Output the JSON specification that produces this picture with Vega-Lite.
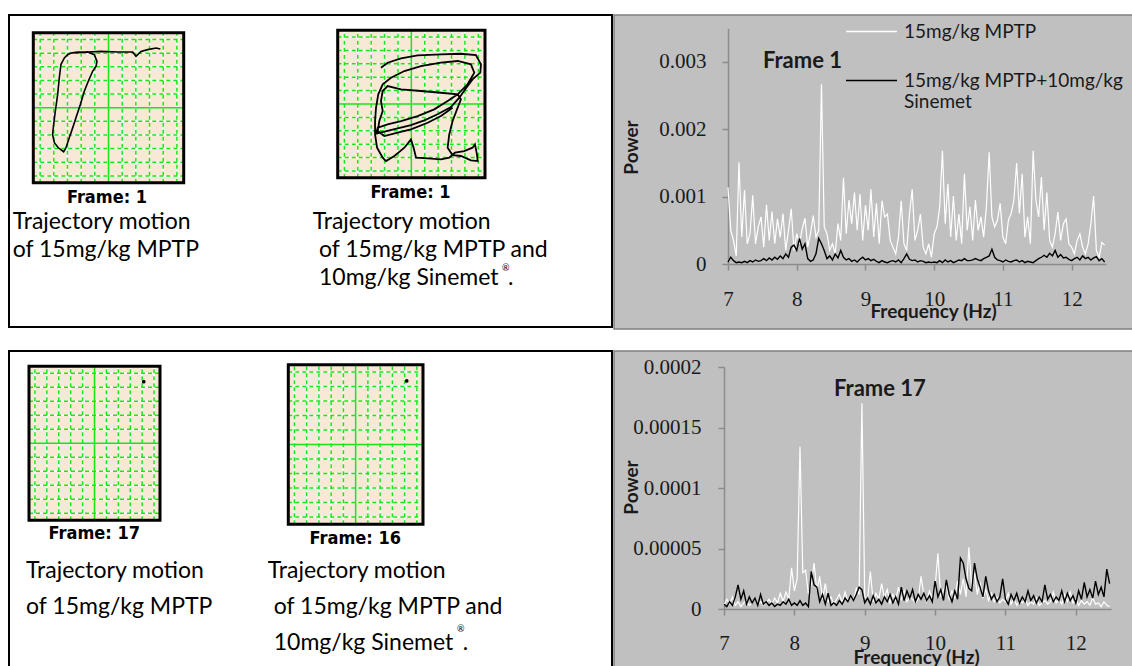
{
"$schema":"https://vega.github.io/schema/vega-lite/v6.json",
"background":"white",
"padding":{"left":8,"top":4,"right":0,"bottom":0},
"spacing":20,
"config":{"view":{"stroke":null},"font":"Lato"},
"datasets":{
"gl":[{"v":0.5},{"v":1.5},{"v":2.5},{"v":3.5},{"v":4.5},{"v":6.5},{"v":7.5},{"v":8.5},{"v":9.5},{"v":10.5}],
"t1":[{"i":1,"x":9.29,"y":9.8},{"i":2,"x":8.98,"y":9.88},{"i":3,"x":8.37,"y":9.76},{"i":4,"x":7.88,"y":9.63},{"i":5,"x":7.51,"y":9.27},{"i":6,"x":7.27,"y":9.59},{"i":7,"x":6.17,"y":9.59},{"i":8,"x":4.95,"y":9.63},{"i":9,"x":3.98,"y":9.59},{"i":10,"x":3.24,"y":9.59},{"i":11,"x":2.76,"y":9.51},{"i":12,"x":2.51,"y":9.39},{"i":13,"x":2.27,"y":9.15},{"i":14,"x":2.02,"y":8.66},{"i":15,"x":1.9,"y":7.68},{"i":16,"x":1.78,"y":6.46},{"i":17,"x":1.61,"y":5.24},{"i":18,"x":1.49,"y":4.27},{"i":19,"x":1.41,"y":3.54},{"i":20,"x":1.54,"y":2.93},{"i":21,"x":1.83,"y":2.56},{"i":22,"x":2.22,"y":2.27},{"i":23,"x":2.39,"y":2.56},{"i":24,"x":2.63,"y":3.29},{"i":25,"x":2.88,"y":4.02},{"i":26,"x":3.12,"y":4.76},{"i":27,"x":3.44,"y":5.73},{"i":28,"x":3.73,"y":6.71},{"i":29,"x":4.02,"y":7.44},{"i":30,"x":4.34,"y":8.17},{"i":31,"x":4.59,"y":8.54},{"i":32,"x":4.66,"y":8.9},{"i":33,"x":4.46,"y":9.39},{"i":34,"x":3.98,"y":9.59},{"i":35,"x":2.88,"y":9.51}],
"t2":[{"i":1,"x":3.23,"y":8.21},{"i":2,"x":3.73,"y":8.58},{"i":3,"x":4.73,"y":8.91},{"i":4,"x":5.97,"y":9.13},{"i":5,"x":7.71,"y":9.2},{"i":6,"x":9.2,"y":9.25},{"i":7,"x":10.32,"y":9.15},{"i":8,"x":10.7,"y":8.46},{"i":9,"x":10.65,"y":7.84},{"i":10,"x":10.07,"y":7.34},{"i":11,"x":9.58,"y":6.67},{"i":12,"x":9.08,"y":5.97},{"i":13,"x":8.46,"y":5.27},{"i":14,"x":7.46,"y":4.73},{"i":15,"x":6.47,"y":4.28},{"i":16,"x":5.47,"y":3.93},{"i":17,"x":4.48,"y":3.68},{"i":18,"x":3.48,"y":3.43},{"i":19,"x":2.86,"y":3.28},{"i":20,"x":2.99,"y":3.73},{"i":21,"x":3.73,"y":3.98},{"i":22,"x":4.73,"y":4.23},{"i":23,"x":5.97,"y":4.6},{"i":24,"x":7.21,"y":5.1},{"i":25,"x":8.21,"y":5.72},{"i":26,"x":8.96,"y":6.22},{"i":27,"x":9.7,"y":6.97},{"i":28,"x":10.2,"y":7.84},{"i":29,"x":9.95,"y":8.46},{"i":30,"x":8.96,"y":8.71},{"i":31,"x":7.71,"y":8.58},{"i":32,"x":6.22,"y":8.33},{"i":33,"x":4.98,"y":7.96},{"i":34,"x":3.98,"y":7.46},{"i":35,"x":3.36,"y":6.97},{"i":36,"x":3.03,"y":6.22},{"i":37,"x":2.86,"y":5.22},{"i":38,"x":2.79,"y":4.23},{"i":39,"x":2.79,"y":3.23},{"i":40,"x":2.94,"y":2.24},{"i":41,"x":3.36,"y":1.49},{"i":42,"x":3.61,"y":1.24},{"i":43,"x":4.23,"y":1.62},{"i":44,"x":4.98,"y":2.24},{"i":45,"x":5.47,"y":2.86},{"i":46,"x":5.67,"y":2.24},{"i":47,"x":5.85,"y":1.49},{"i":48,"x":6.72,"y":1.44},{"i":49,"x":7.71,"y":1.37},{"i":50,"x":8.33,"y":1.49},{"i":51,"x":8.76,"y":1.87},{"i":52,"x":9.45,"y":1.99},{"i":53,"x":10.07,"y":2.24},{"i":54,"x":10.25,"y":2.49},{"i":55,"x":10.4,"y":1.74},{"i":56,"x":10.45,"y":1.24},{"i":57,"x":9.95,"y":1.29},{"i":58,"x":9.2,"y":1.62},{"i":59,"x":8.58,"y":1.69},{"i":60,"x":8.21,"y":2.24},{"i":61,"x":8.33,"y":3.23},{"i":62,"x":8.58,"y":4.23},{"i":63,"x":8.91,"y":5.1},{"i":64,"x":9.2,"y":5.85},{"i":65,"x":8.96,"y":6.22},{"i":66,"x":7.71,"y":6.34},{"i":67,"x":6.22,"y":6.47},{"i":68,"x":4.73,"y":6.59},{"i":69,"x":3.73,"y":6.84},{"i":70,"x":3.36,"y":6.47},{"i":71,"x":3.23,"y":5.72},{"i":72,"x":3.36,"y":4.98},{"i":73,"x":3.11,"y":4.23},{"i":74,"x":2.99,"y":3.48},{"i":75,"x":3.48,"y":3.11},{"i":76,"x":4.48,"y":3.36},{"i":77,"x":5.47,"y":3.61},{"i":78,"x":6.72,"y":4.1},{"i":79,"x":7.71,"y":4.6},{"i":80,"x":8.58,"y":5.22}],
"c1":[{"f":7,"w":1.14e-3,"b":0.03e-3},{"f":7.04,"w":0.5e-3,"b":0.1e-3},{"f":7.08,"w":0.35e-3,"b":0.05e-3},{"f":7.12,"w":0.12e-3,"b":0.02e-3},{"f":7.16,"w":1.51e-3,"b":0.03e-3},{"f":7.2,"w":0.4e-3,"b":0.02e-3},{"f":7.24,"w":1.1e-3,"b":0.04e-3},{"f":7.28,"w":0.3e-3,"b":0.02e-3},{"f":7.32,"w":0.45e-3,"b":0.05e-3},{"f":7.36,"w":1.02e-3,"b":0.03e-3},
{"f":7.4,"w":0.3e-3,"b":0.06e-3},{"f":7.44,"w":0.55e-3,"b":0.04e-3},{"f":7.48,"w":0.7e-3,"b":0.05e-3},{"f":7.52,"w":0.25e-3,"b":0.08e-3},{"f":7.56,"w":0.88e-3,"b":0.05e-3},{"f":7.6,"w":0.35e-3,"b":0.09e-3},{"f":7.64,"w":0.78e-3,"b":0.06e-3},{"f":7.68,"w":0.3e-3,"b":0.1e-3},{"f":7.72,"w":0.67e-3,"b":0.07e-3},{"f":7.76,"w":0.4e-3,"b":0.12e-3},
{"f":7.8,"w":0.75e-3,"b":0.08e-3},{"f":7.84,"w":0.2e-3,"b":0.15e-3},{"f":7.88,"w":0.5e-3,"b":0.1e-3},{"f":7.92,"w":0.82e-3,"b":0.25e-3},{"f":7.96,"w":0.2e-3,"b":0.28e-3},{"f":8,"w":0.45e-3,"b":0.2e-3},{"f":8.04,"w":0.3e-3,"b":0.38e-3},{"f":8.08,"w":0.52e-3,"b":0.22e-3},{"f":8.12,"w":0.68e-3,"b":0.3e-3},{"f":8.16,"w":0.25e-3,"b":0.08e-3},
{"f":8.2,"w":0.45e-3,"b":0.04e-3},{"f":8.24,"w":0.72e-3,"b":0.06e-3},{"f":8.28,"w":0.4e-3,"b":0.15e-3},{"f":8.32,"w":0.5e-3,"b":0.38e-3},{"f":8.36,"w":2.67e-3,"b":0.3e-3},{"f":8.4,"w":0.55e-3,"b":0.2e-3},{"f":8.44,"w":0.45e-3,"b":0.08e-3},{"f":8.48,"w":0.2e-3,"b":0.12e-3},{"f":8.52,"w":0.3e-3,"b":0.06e-3},{"f":8.56,"w":0.15e-3,"b":0.15e-3},
{"f":8.6,"w":0.6e-3,"b":0.09e-3},{"f":8.64,"w":0.35e-3,"b":0.2e-3},{"f":8.68,"w":1.28e-3,"b":0.1e-3},{"f":8.72,"w":0.45e-3,"b":0.06e-3},{"f":8.76,"w":0.95e-3,"b":0.08e-3},{"f":8.8,"w":0.6e-3,"b":0.04e-3},{"f":8.84,"w":1.06e-3,"b":0.06e-3},{"f":8.88,"w":0.5e-3,"b":0.03e-3},{"f":8.92,"w":1.04e-3,"b":0.07e-3},{"f":8.96,"w":0.35e-3,"b":0.1e-3},
{"f":9,"w":0.87e-3,"b":0.06e-3},{"f":9.04,"w":0.5e-3,"b":0.08e-3},{"f":9.08,"w":1.11e-3,"b":0.05e-3},{"f":9.12,"w":0.4e-3,"b":0.07e-3},{"f":9.16,"w":0.9e-3,"b":0.04e-3},{"f":9.2,"w":0.3e-3,"b":0.02e-3},{"f":9.24,"w":0.94e-3,"b":0.05e-3},{"f":9.28,"w":0.7e-3,"b":0.03e-3},{"f":9.32,"w":0.74e-3,"b":0.02e-3},{"f":9.36,"w":0.35e-3,"b":0.04e-3},
{"f":9.4,"w":0.25e-3,"b":0.05e-3},{"f":9.44,"w":0.15e-3,"b":0.03e-3},{"f":9.48,"w":0.4e-3,"b":0.06e-3},{"f":9.52,"w":0.94e-3,"b":0.02e-3},{"f":9.56,"w":0.3e-3,"b":0.08e-3},{"f":9.6,"w":0.2e-3,"b":0.15e-3},{"f":9.64,"w":0.74e-3,"b":0.07e-3},{"f":9.68,"w":1.11e-3,"b":0.05e-3},{"f":9.72,"w":0.35e-3,"b":0.06e-3},{"f":9.76,"w":0.5e-3,"b":0.03e-3},
{"f":9.8,"w":0.74e-3,"b":0.05e-3},{"f":9.84,"w":0.25e-3,"b":0.04e-3},{"f":9.88,"w":0.15e-3,"b":0.02e-3},{"f":9.92,"w":0.3e-3,"b":0.03e-3},{"f":9.96,"w":0.1e-3,"b":0.02e-3},{"f":10,"w":0.45e-3,"b":0.03e-3},{"f":10.04,"w":0.55e-3,"b":0.02e-3},{"f":10.08,"w":0.84e-3,"b":0.05e-3},{"f":10.12,"w":1.68e-3,"b":0.02e-3},{"f":10.16,"w":0.6e-3,"b":0.06e-3},
{"f":10.2,"w":1.19e-3,"b":0.03e-3},{"f":10.24,"w":0.4e-3,"b":0.05e-3},{"f":10.28,"w":1.01e-3,"b":0.02e-3},{"f":10.32,"w":0.35e-3,"b":0.04e-3},{"f":10.36,"w":0.74e-3,"b":0.06e-3},{"f":10.4,"w":0.3e-3,"b":0.05e-3},{"f":10.44,"w":1.34e-3,"b":0.08e-3},{"f":10.48,"w":0.5e-3,"b":0.05e-3},{"f":10.52,"w":0.85e-3,"b":0.05e-3},{"f":10.56,"w":0.35e-3,"b":0.06e-3},
{"f":10.6,"w":0.95e-3,"b":0.08e-3},{"f":10.64,"w":0.5e-3,"b":0.06e-3},{"f":10.68,"w":0.7e-3,"b":0.05e-3},{"f":10.72,"w":0.4e-3,"b":0.08e-3},{"f":10.76,"w":0.85e-3,"b":0.1e-3},{"f":10.8,"w":1.66e-3,"b":0.12e-3},{"f":10.84,"w":0.7e-3,"b":0.22e-3},{"f":10.88,"w":0.55e-3,"b":0.1e-3},{"f":10.92,"w":0.65e-3,"b":0.06e-3},{"f":10.96,"w":0.9e-3,"b":0.05e-3},
{"f":11,"w":0.4e-3,"b":0.03e-3},{"f":11.04,"w":0.3e-3,"b":0.06e-3},{"f":11.08,"w":0.65e-3,"b":0.04e-3},{"f":11.12,"w":0.75e-3,"b":0.03e-3},{"f":11.16,"w":0.95e-3,"b":0.05e-3},{"f":11.2,"w":1.5e-3,"b":0.06e-3},{"f":11.24,"w":0.75e-3,"b":0.03e-3},{"f":11.28,"w":1.34e-3,"b":0.05e-3},{"f":11.32,"w":0.4e-3,"b":0.02e-3},{"f":11.36,"w":0.7e-3,"b":0.04e-3},
{"f":11.4,"w":0.3e-3,"b":0.03e-3},{"f":11.44,"w":1.68e-3,"b":0.02e-3},{"f":11.48,"w":0.95e-3,"b":0.05e-3},{"f":11.52,"w":0.7e-3,"b":0.08e-3},{"f":11.56,"w":1.29e-3,"b":0.1e-3},{"f":11.6,"w":0.5e-3,"b":0.13e-3},{"f":11.64,"w":1.06e-3,"b":0.1e-3},{"f":11.68,"w":0.35e-3,"b":0.16e-3},{"f":11.72,"w":0.25e-3,"b":0.12e-3},{"f":11.76,"w":0.45e-3,"b":0.2e-3},
{"f":11.8,"w":0.77e-3,"b":0.1e-3},{"f":11.84,"w":0.35e-3,"b":0.14e-3},{"f":11.88,"w":0.6e-3,"b":0.09e-3},{"f":11.92,"w":0.67e-3,"b":0.1e-3},{"f":11.96,"w":0.3e-3,"b":0.07e-3},{"f":12,"w":0.25e-3,"b":0.05e-3},{"f":12.04,"w":0.15e-3,"b":0.08e-3},{"f":12.08,"w":0.35e-3,"b":0.1e-3},{"f":12.12,"w":0.45e-3,"b":0.06e-3},{"f":12.16,"w":0.25e-3,"b":0.12e-3},
{"f":12.2,"w":0.15e-3,"b":0.08e-3},{"f":12.24,"w":0.3e-3,"b":0.1e-3},{"f":12.28,"w":0.6e-3,"b":0.06e-3},{"f":12.32,"w":1.01e-3,"b":0.09e-3},{"f":12.36,"w":0.2e-3,"b":0.11e-3},{"f":12.4,"w":0.1e-3,"b":0.05e-3},{"f":12.44,"w":0.32e-3,"b":0.08e-3},{"f":12.48,"w":0.28e-3,"b":0.03e-3}],
"c2":[{"f":7,"w":0.3e-5,"b":0.4e-5},{"f":7.04,"w":0.8e-5,"b":0.2e-5},{"f":7.08,"w":0.4e-5,"b":0.6e-5},{"f":7.12,"w":1.0e-5,"b":0.3e-5},{"f":7.16,"w":0.3e-5,"b":1.0e-5},{"f":7.2,"w":0.6e-5,"b":2.0e-5},{"f":7.24,"w":0.2e-5,"b":0.8e-5},{"f":7.28,"w":0.5e-5,"b":1.5e-5},{"f":7.32,"w":0.7e-5,"b":0.4e-5},{"f":7.36,"w":0.3e-5,"b":1.0e-5},
{"f":7.4,"w":0.5e-5,"b":0.5e-5},{"f":7.44,"w":0.9e-5,"b":0.9e-5},{"f":7.48,"w":0.4e-5,"b":0.3e-5},{"f":7.52,"w":0.6e-5,"b":1.2e-5},{"f":7.56,"w":0.3e-5,"b":0.4e-5},{"f":7.6,"w":0.5e-5,"b":0.6e-5},{"f":7.64,"w":0.8e-5,"b":0.3e-5},{"f":7.68,"w":0.4e-5,"b":0.5e-5},{"f":7.72,"w":0.9e-5,"b":0.2e-5},{"f":7.76,"w":0.5e-5,"b":0.4e-5},
{"f":7.8,"w":1.3e-5,"b":0.3e-5},{"f":7.84,"w":0.6e-5,"b":0.6e-5},{"f":7.88,"w":1.4e-5,"b":0.4e-5},{"f":7.92,"w":0.8e-5,"b":0.8e-5},{"f":7.96,"w":3.4e-5,"b":0.3e-5},{"f":8,"w":1.5e-5,"b":0.5e-5},{"f":8.04,"w":2.5e-5,"b":0.3e-5},{"f":8.08,"w":13.4e-5,"b":0.7e-5},{"f":8.12,"w":3.0e-5,"b":0.3e-5},{"f":8.16,"w":3.2e-5,"b":0.5e-5},
{"f":8.2,"w":1.2e-5,"b":0.2e-5},{"f":8.24,"w":2.0e-5,"b":3.1e-5},{"f":8.28,"w":3.8e-5,"b":2.0e-5},{"f":8.32,"w":1.5e-5,"b":1.8e-5},{"f":8.36,"w":2.7e-5,"b":0.6e-5},{"f":8.4,"w":0.8e-5,"b":1.2e-5},{"f":8.44,"w":2.1e-5,"b":0.4e-5},{"f":8.48,"w":0.6e-5,"b":1.3e-5},{"f":8.52,"w":1.0e-5,"b":0.3e-5},{"f":8.56,"w":0.4e-5,"b":0.5e-5},
{"f":8.6,"w":0.8e-5,"b":0.3e-5},{"f":8.64,"w":1.2e-5,"b":0.7e-5},{"f":8.68,"w":0.5e-5,"b":0.4e-5},{"f":8.72,"w":1.4e-5,"b":0.9e-5},{"f":8.76,"w":0.6e-5,"b":0.6e-5},{"f":8.8,"w":1.0e-5,"b":1.1e-5},{"f":8.84,"w":0.7e-5,"b":0.7e-5},{"f":8.88,"w":1.7e-5,"b":1.2e-5},{"f":8.92,"w":1.2e-5,"b":1.8e-5},{"f":8.96,"w":17.0e-5,"b":1.6e-5},
{"f":9,"w":1.0e-5,"b":0.5e-5},{"f":9.04,"w":0.8e-5,"b":0.9e-5},{"f":9.08,"w":3.1e-5,"b":0.4e-5},{"f":9.12,"w":0.6e-5,"b":1.1e-5},{"f":9.16,"w":1.3e-5,"b":0.5e-5},{"f":9.2,"w":0.8e-5,"b":0.8e-5},{"f":9.24,"w":2.1e-5,"b":0.4e-5},{"f":9.28,"w":0.9e-5,"b":1.0e-5},{"f":9.32,"w":1.6e-5,"b":0.6e-5},{"f":9.36,"w":0.5e-5,"b":1.2e-5},
{"f":9.4,"w":1.2e-5,"b":0.5e-5},{"f":9.44,"w":0.7e-5,"b":1.0e-5},{"f":9.48,"w":1.8e-5,"b":0.4e-5},{"f":9.52,"w":0.8e-5,"b":1.8e-5},{"f":9.56,"w":1.5e-5,"b":0.7e-5},{"f":9.6,"w":0.6e-5,"b":1.5e-5},{"f":9.64,"w":1.0e-5,"b":0.9e-5},{"f":9.68,"w":0.8e-5,"b":1.6e-5},{"f":9.72,"w":0.5e-5,"b":0.6e-5},{"f":9.76,"w":0.8e-5,"b":1.2e-5},
{"f":9.8,"w":2.7e-5,"b":0.8e-5},{"f":9.84,"w":1.2e-5,"b":1.3e-5},{"f":9.88,"w":0.6e-5,"b":0.7e-5},{"f":9.92,"w":1.5e-5,"b":1.1e-5},{"f":9.96,"w":0.9e-5,"b":0.6e-5},{"f":10,"w":1.8e-5,"b":2.3e-5},{"f":10.04,"w":4.6e-5,"b":1.0e-5},{"f":10.08,"w":1.0e-5,"b":1.6e-5},{"f":10.12,"w":1.6e-5,"b":0.7e-5},{"f":10.16,"w":2.0e-5,"b":2.4e-5},
{"f":10.2,"w":0.8e-5,"b":1.2e-5},{"f":10.24,"w":1.5e-5,"b":0.6e-5},{"f":10.28,"w":0.9e-5,"b":1.5e-5},{"f":10.32,"w":2.3e-5,"b":0.8e-5},{"f":10.36,"w":1.2e-5,"b":4.2e-5},{"f":10.4,"w":2.5e-5,"b":3.8e-5},{"f":10.44,"w":1.0e-5,"b":2.5e-5},{"f":10.48,"w":5.1e-5,"b":1.7e-5},{"f":10.52,"w":1.8e-5,"b":1.5e-5},{"f":10.56,"w":3.0e-5,"b":3.8e-5},
{"f":10.6,"w":1.2e-5,"b":2.5e-5},{"f":10.64,"w":2.2e-5,"b":1.8e-5},{"f":10.68,"w":0.9e-5,"b":1.0e-5},{"f":10.72,"w":1.6e-5,"b":2.7e-5},{"f":10.76,"w":0.7e-5,"b":1.5e-5},{"f":10.8,"w":1.3e-5,"b":0.8e-5},{"f":10.84,"w":0.6e-5,"b":1.2e-5},{"f":10.88,"w":1.0e-5,"b":0.6e-5},{"f":10.92,"w":0.5e-5,"b":1.0e-5},{"f":10.96,"w":0.8e-5,"b":2.5e-5},
{"f":11,"w":0.6e-5,"b":0.8e-5},{"f":11.04,"w":1.3e-5,"b":0.4e-5},{"f":11.08,"w":0.4e-5,"b":1.2e-5},{"f":11.12,"w":0.9e-5,"b":0.7e-5},{"f":11.16,"w":0.3e-5,"b":1.3e-5},{"f":11.2,"w":0.7e-5,"b":0.5e-5},{"f":11.24,"w":0.5e-5,"b":1.0e-5},{"f":11.28,"w":0.8e-5,"b":0.6e-5},{"f":11.32,"w":0.3e-5,"b":1.5e-5},{"f":11.36,"w":0.6e-5,"b":0.7e-5},
{"f":11.4,"w":0.4e-5,"b":1.1e-5},{"f":11.44,"w":0.9e-5,"b":0.5e-5},{"f":11.48,"w":0.3e-5,"b":1.0e-5},{"f":11.52,"w":0.5e-5,"b":0.6e-5},{"f":11.56,"w":0.7e-5,"b":2.0e-5},{"f":11.6,"w":0.4e-5,"b":0.8e-5},{"f":11.64,"w":0.6e-5,"b":1.2e-5},{"f":11.68,"w":1.4e-5,"b":0.6e-5},{"f":11.72,"w":0.5e-5,"b":1.0e-5},{"f":11.76,"w":0.8e-5,"b":0.7e-5},
{"f":11.8,"w":0.4e-5,"b":1.5e-5},{"f":11.84,"w":1.2e-5,"b":0.6e-5},{"f":11.88,"w":0.6e-5,"b":1.3e-5},{"f":11.92,"w":1.4e-5,"b":0.7e-5},{"f":11.96,"w":0.5e-5,"b":1.1e-5},{"f":12,"w":0.8e-5,"b":0.5e-5},{"f":12.04,"w":0.3e-5,"b":1.5e-5},{"f":12.08,"w":0.7e-5,"b":0.8e-5},{"f":12.12,"w":0.4e-5,"b":2.2e-5},{"f":12.16,"w":0.6e-5,"b":1.0e-5},
{"f":12.2,"w":0.3e-5,"b":1.6e-5},{"f":12.24,"w":0.9e-5,"b":0.9e-5},{"f":12.28,"w":0.4e-5,"b":2.3e-5},{"f":12.32,"w":0.5e-5,"b":1.2e-5},{"f":12.36,"w":0.2e-5,"b":1.8e-5},{"f":12.4,"w":0.6e-5,"b":1.0e-5},{"f":12.44,"w":0.3e-5,"b":3.3e-5},{"f":12.48,"w":0.2e-5,"b":2.1e-5}]
},
"resolve":{"scale":{"color":"independent"},"legend":{"color":"independent"}},
"vconcat":[
{"hconcat":[
 {"width":603,"height":312,"view":{"fill":"white","stroke":"black","strokeWidth":2},
  "resolve":{"scale":{"x":"independent","y":"independent"}},
  "layer":[
   {"data":{"values":[{}]},"layer":[
    {"mark":{"type":"rect","fill":"#f8e8d6"},"encoding":{"x":{"datum":0,"type":"quantitative","scale":{"domain":[0,11],"range":[24.3,174.7],"nice":false,"zero":false},"axis":null},"x2":{"datum":11},"y":{"datum":0,"type":"quantitative","scale":{"domain":[0,11],"range":[167.7,17.7],"nice":false,"zero":false},"axis":null},"y2":{"datum":11}}},
    {"data":{"name":"gl"},"mark":{"type":"rule","color":"#ffffff","strokeWidth":1.5},"encoding":{"x":{"field":"v","type":"quantitative","axis":null},"y":{"datum":0,"type":"quantitative","axis":null},"y2":{"datum":11}}},
    {"data":{"name":"gl"},"mark":{"type":"rule","color":"#ffffff","strokeWidth":1.5},"encoding":{"y":{"field":"v","type":"quantitative","axis":null},"x":{"datum":0,"type":"quantitative","axis":null},"x2":{"datum":11}}},
    {"data":{"name":"gl"},"mark":{"type":"rule","color":"#19e619","strokeWidth":1.5,"strokeDash":[4,3]},"encoding":{"x":{"field":"v","type":"quantitative","axis":null},"y":{"datum":0,"type":"quantitative","axis":null},"y2":{"datum":11}}},
    {"data":{"name":"gl"},"mark":{"type":"rule","color":"#19e619","strokeWidth":1.5,"strokeDash":[4,3]},"encoding":{"y":{"field":"v","type":"quantitative","axis":null},"x":{"datum":0,"type":"quantitative","axis":null},"x2":{"datum":11}}},
    {"mark":{"type":"rule","color":"#19e619","strokeWidth":1.5},"encoding":{"x":{"datum":5.5,"type":"quantitative","axis":null},"y":{"datum":0,"type":"quantitative","axis":null},"y2":{"datum":11}}},
    {"mark":{"type":"rule","color":"#19e619","strokeWidth":1.5},"encoding":{"y":{"datum":5.5,"type":"quantitative","axis":null},"x":{"datum":0,"type":"quantitative","axis":null},"x2":{"datum":11}}},
    {"mark":{"type":"rect","filled":false,"color":"#000000","strokeWidth":3},"encoding":{"x":{"datum":0,"type":"quantitative","axis":null},"x2":{"datum":11},"y":{"datum":0,"type":"quantitative","axis":null},"y2":{"datum":11}}},
    {"data":{"name":"t1"},"mark":{"type":"line","color":"#000000","strokeWidth":1.6},"encoding":{"x":{"field":"x","type":"quantitative","axis":null},"y":{"field":"y","type":"quantitative","axis":null},"order":{"field":"i","type":"quantitative"}}},
    {"mark":{"type":"text","text":"Frame: 1","font":"DejaVu Sans Condensed","fontWeight":"bold","fontSize":18,"color":"#000000","align":"center","baseline":"middle"},"encoding":{"x":{"datum":5.39,"type":"quantitative","axis":null},"y":{"datum":-1.12,"type":"quantitative","axis":null}}},
    {"mark":{"type":"text","text":"Trajectory motion","font":"Lato","fontSize":23,"color":"#000000","align":"left","baseline":"middle"},"encoding":{"x":{"datum":-1.51,"type":"quantitative","axis":null},"y":{"datum":-2.88,"type":"quantitative","axis":null}}},
    {"mark":{"type":"text","text":"of 15mg/kg MPTP","font":"Lato","fontSize":23,"color":"#000000","align":"left","baseline":"middle"},"encoding":{"x":{"datum":-1.51,"type":"quantitative","axis":null},"y":{"datum":-4.93,"type":"quantitative","axis":null}}}
   ]},
   {"data":{"values":[{}]},"layer":[
    {"mark":{"type":"rect","fill":"#f8e8d6"},"encoding":{"x":{"datum":0,"type":"quantitative","scale":{"domain":[0,11],"range":[328.7,476],"nice":false,"zero":false},"axis":null},"x2":{"datum":11},"y":{"datum":0,"type":"quantitative","scale":{"domain":[0,11],"range":[162.7,15.3],"nice":false,"zero":false},"axis":null},"y2":{"datum":11}}},
    {"data":{"name":"gl"},"mark":{"type":"rule","color":"#ffffff","strokeWidth":1.5},"encoding":{"x":{"field":"v","type":"quantitative","axis":null},"y":{"datum":0,"type":"quantitative","axis":null},"y2":{"datum":11}}},
    {"data":{"name":"gl"},"mark":{"type":"rule","color":"#ffffff","strokeWidth":1.5},"encoding":{"y":{"field":"v","type":"quantitative","axis":null},"x":{"datum":0,"type":"quantitative","axis":null},"x2":{"datum":11}}},
    {"data":{"name":"gl"},"mark":{"type":"rule","color":"#19e619","strokeWidth":1.5,"strokeDash":[4,3]},"encoding":{"x":{"field":"v","type":"quantitative","axis":null},"y":{"datum":0,"type":"quantitative","axis":null},"y2":{"datum":11}}},
    {"data":{"name":"gl"},"mark":{"type":"rule","color":"#19e619","strokeWidth":1.5,"strokeDash":[4,3]},"encoding":{"y":{"field":"v","type":"quantitative","axis":null},"x":{"datum":0,"type":"quantitative","axis":null},"x2":{"datum":11}}},
    {"mark":{"type":"rule","color":"#19e619","strokeWidth":1.5},"encoding":{"x":{"datum":5.5,"type":"quantitative","axis":null},"y":{"datum":0,"type":"quantitative","axis":null},"y2":{"datum":11}}},
    {"mark":{"type":"rule","color":"#19e619","strokeWidth":1.5},"encoding":{"y":{"datum":5.5,"type":"quantitative","axis":null},"x":{"datum":0,"type":"quantitative","axis":null},"x2":{"datum":11}}},
    {"mark":{"type":"rect","filled":false,"color":"#000000","strokeWidth":3},"encoding":{"x":{"datum":0,"type":"quantitative","axis":null},"x2":{"datum":11},"y":{"datum":0,"type":"quantitative","axis":null},"y2":{"datum":11}}},
    {"data":{"name":"t2"},"mark":{"type":"line","color":"#000000","strokeWidth":1.8},"encoding":{"x":{"field":"x","type":"quantitative","axis":null},"y":{"field":"y","type":"quantitative","axis":null},"order":{"field":"i","type":"quantitative"}}},
    {"mark":{"type":"text","text":"Frame: 1","font":"DejaVu Sans Condensed","fontWeight":"bold","fontSize":18,"color":"#000000","align":"center","baseline":"middle"},"encoding":{"x":{"datum":5.44,"type":"quantitative","axis":null},"y":{"datum":-1.14,"type":"quantitative","axis":null}}},
    {"mark":{"type":"text","text":"Trajectory motion","font":"Lato","fontSize":23,"color":"#000000","align":"left","baseline":"middle"},"encoding":{"x":{"datum":-1.87,"type":"quantitative","axis":null},"y":{"datum":-3.31,"type":"quantitative","axis":null}}},
    {"mark":{"type":"text","text":"of 15mg/kg MPTP and","font":"Lato","fontSize":23,"color":"#000000","align":"left","baseline":"middle"},"encoding":{"x":{"datum":-1.4,"type":"quantitative","axis":null},"y":{"datum":-5.4,"type":"quantitative","axis":null}}},
    {"mark":{"type":"text","text":"10mg/kg Sinemet","font":"Lato","fontSize":23,"color":"#000000","align":"left","baseline":"middle"},"encoding":{"x":{"datum":-1.4,"type":"quantitative","axis":null},"y":{"datum":-7.49,"type":"quantitative","axis":null}}},
    {"mark":{"type":"text","text":"®","font":"Lato","fontSize":9,"color":"#000000","align":"left","baseline":"middle"},"encoding":{"x":{"datum":12.27,"type":"quantitative","axis":null},"y":{"datum":-6.74,"type":"quantitative","axis":null}}},
    {"mark":{"type":"text","text":".","font":"Lato","fontSize":23,"color":"#000000","align":"left","baseline":"middle"},"encoding":{"x":{"datum":12.72,"type":"quantitative","axis":null},"y":{"datum":-7.49,"type":"quantitative","axis":null}}}
   ]}
  ]},
 {"width":521,"height":314,"view":{"fill":"#c0c0c0","stroke":"#808080","strokeWidth":1.5},
  "data":{"name":"c1"},
  "layer":[
   {"mark":{"type":"line","strokeWidth":1.2},
    "encoding":{
     "x":{"field":"f","type":"quantitative","scale":{"domain":[7,12.5],"range":[114,492],"nice":false,"zero":false},
      "axis":{"values":[7,8,9,10,11,12],"format":"d","offset":-65,"grid":false,"domainColor":"#8c8c8c","domainWidth":1.5,"tickColor":"#8c8c8c","tickWidth":1.5,"tickSize":6,"labelFont":"Liberation Serif","labelFontSize":21,"labelColor":"#1a1a1a","labelPadding":18,"labelFlush":false,"labelOverlap":false,"title":"Frequency (Hz)","titleFont":"Lato","titleFontSize":19,"titleFontWeight":"bold","titleColor":"#1a1a1a","titleX":319,"titleY":47,"titleBaseline":"middle","titleAlign":"center"}},
     "y":{"field":"w","type":"quantitative","scale":{"domain":[0,0.0035],"range":[249,13.3],"nice":false,"zero":false},
      "axis":{"values":[0,0.001,0.002,0.003],"format":"~g","offset":-114,"grid":false,"domainColor":"#8c8c8c","domainWidth":1.5,"tickColor":"#8c8c8c","tickWidth":1.5,"tickSize":6,"labelFont":"Liberation Serif","labelFontSize":21,"labelColor":"#1a1a1a","labelPadding":16,"labelFlush":false,"labelOverlap":false,"title":"Power","titleFont":"Lato","titleFontSize":19,"titleFontWeight":"bold","titleColor":"#1a1a1a","titleX":-96.5,"titleY":132,"titleAngle":270,"titleBaseline":"middle","titleAlign":"center"}},
     "color":{"datum":"15mg/kg MPTP","scale":{"domain":["15mg/kg MPTP","15mg/kg MPTP+10mg/kg Sinemet"],"range":["#ffffff","#000000"]},
      "legend":{"orient":"none","legendX":231,"legendY":-10,"title":null,"symbolType":"stroke","symbolSize":2600,"symbolStrokeWidth":1.5,"labelFont":"Lato","labelFontSize":19,"labelColor":"#1a1a1a","labelOffset":6,"labelLimit":400,"rowPadding":12,"padding":0,"labelExpr":"datum.label == '15mg/kg MPTP+10mg/kg Sinemet' ? ['15mg/kg MPTP+10mg/kg', 'Sinemet'] : datum.label"}}}},
   {"mark":{"type":"line","strokeWidth":1.4},"encoding":{"x":{"field":"f","type":"quantitative"},"y":{"field":"b","type":"quantitative"},"color":{"datum":"15mg/kg MPTP+10mg/kg Sinemet"}}},
   {"data":{"values":[{}]},"mark":{"type":"text","text":"Frame 1","font":"Lato","fontWeight":"bold","fontSize":22,"color":"#1a1a1a","align":"left","baseline":"middle"},"encoding":{"x":{"datum":7.509},"y":{"datum":0.003015}}}
  ]}
 ],"spacing":0,"resolve":{"scale":{"color":"independent"},"legend":{"color":"independent"}}},
{"hconcat":[
 {"width":603,"height":318,"view":{"fill":"white","stroke":"black","strokeWidth":2},
  "resolve":{"scale":{"x":"independent","y":"independent"}},
  "layer":[
   {"data":{"values":[{}]},"layer":[
    {"mark":{"type":"rect","fill":"#f8e8d6"},"encoding":{"x":{"datum":0,"type":"quantitative","scale":{"domain":[0,11],"range":[20,151],"nice":false,"zero":false},"axis":null},"x2":{"datum":11},"y":{"datum":0,"type":"quantitative","scale":{"domain":[0,11],"range":[169.3,15.3],"nice":false,"zero":false},"axis":null},"y2":{"datum":11}}},
    {"data":{"name":"gl"},"mark":{"type":"rule","color":"#ffffff","strokeWidth":1.5},"encoding":{"x":{"field":"v","type":"quantitative","axis":null},"y":{"datum":0,"type":"quantitative","axis":null},"y2":{"datum":11}}},
    {"data":{"name":"gl"},"mark":{"type":"rule","color":"#ffffff","strokeWidth":1.5},"encoding":{"y":{"field":"v","type":"quantitative","axis":null},"x":{"datum":0,"type":"quantitative","axis":null},"x2":{"datum":11}}},
    {"data":{"name":"gl"},"mark":{"type":"rule","color":"#19e619","strokeWidth":1.5,"strokeDash":[4,3]},"encoding":{"x":{"field":"v","type":"quantitative","axis":null},"y":{"datum":0,"type":"quantitative","axis":null},"y2":{"datum":11}}},
    {"data":{"name":"gl"},"mark":{"type":"rule","color":"#19e619","strokeWidth":1.5,"strokeDash":[4,3]},"encoding":{"y":{"field":"v","type":"quantitative","axis":null},"x":{"datum":0,"type":"quantitative","axis":null},"x2":{"datum":11}}},
    {"mark":{"type":"rule","color":"#19e619","strokeWidth":1.5},"encoding":{"x":{"datum":5.5,"type":"quantitative","axis":null},"y":{"datum":0,"type":"quantitative","axis":null},"y2":{"datum":11}}},
    {"mark":{"type":"rule","color":"#19e619","strokeWidth":1.5},"encoding":{"y":{"datum":5.5,"type":"quantitative","axis":null},"x":{"datum":0,"type":"quantitative","axis":null},"x2":{"datum":11}}},
    {"mark":{"type":"rect","filled":false,"color":"#000000","strokeWidth":3},"encoding":{"x":{"datum":0,"type":"quantitative","axis":null},"x2":{"datum":11},"y":{"datum":0,"type":"quantitative","axis":null},"y2":{"datum":11}}},
    {"data":{"values":[{"x":9.63,"y":9.9}]},"mark":{"type":"point","filled":true,"color":"#000000","size":14,"opacity":1},"encoding":{"x":{"field":"x","type":"quantitative","axis":null},"y":{"field":"y","type":"quantitative","axis":null}}},
    {"mark":{"type":"text","text":"Frame: 17","font":"DejaVu Sans Condensed","fontWeight":"bold","fontSize":18,"color":"#000000","align":"center","baseline":"middle"},"encoding":{"x":{"datum":5.48,"type":"quantitative","axis":null},"y":{"datum":-0.98,"type":"quantitative","axis":null}}},
    {"mark":{"type":"text","text":"Trajectory motion","font":"Lato","fontSize":23,"color":"#000000","align":"left","baseline":"middle"},"encoding":{"x":{"datum":-0.25,"type":"quantitative","axis":null},"y":{"datum":-3.62,"type":"quantitative","axis":null}}},
    {"mark":{"type":"text","text":"of 15mg/kg MPTP","font":"Lato","fontSize":23,"color":"#000000","align":"left","baseline":"middle"},"encoding":{"x":{"datum":-0.25,"type":"quantitative","axis":null},"y":{"datum":-6.19,"type":"quantitative","axis":null}}}
   ]},
   {"data":{"values":[{}]},"layer":[
    {"mark":{"type":"rect","fill":"#f8e8d6"},"encoding":{"x":{"datum":0,"type":"quantitative","scale":{"domain":[0,11],"range":[279.3,414],"nice":false,"zero":false},"axis":null},"x2":{"datum":11},"y":{"datum":0,"type":"quantitative","scale":{"domain":[0,11],"range":[173.3,13.7],"nice":false,"zero":false},"axis":null},"y2":{"datum":11}}},
    {"data":{"name":"gl"},"mark":{"type":"rule","color":"#ffffff","strokeWidth":1.5},"encoding":{"x":{"field":"v","type":"quantitative","axis":null},"y":{"datum":0,"type":"quantitative","axis":null},"y2":{"datum":11}}},
    {"data":{"name":"gl"},"mark":{"type":"rule","color":"#ffffff","strokeWidth":1.5},"encoding":{"y":{"field":"v","type":"quantitative","axis":null},"x":{"datum":0,"type":"quantitative","axis":null},"x2":{"datum":11}}},
    {"data":{"name":"gl"},"mark":{"type":"rule","color":"#19e619","strokeWidth":1.5,"strokeDash":[4,3]},"encoding":{"x":{"field":"v","type":"quantitative","axis":null},"y":{"datum":0,"type":"quantitative","axis":null},"y2":{"datum":11}}},
    {"data":{"name":"gl"},"mark":{"type":"rule","color":"#19e619","strokeWidth":1.5,"strokeDash":[4,3]},"encoding":{"y":{"field":"v","type":"quantitative","axis":null},"x":{"datum":0,"type":"quantitative","axis":null},"x2":{"datum":11}}},
    {"mark":{"type":"rule","color":"#19e619","strokeWidth":1.5},"encoding":{"x":{"datum":5.5,"type":"quantitative","axis":null},"y":{"datum":0,"type":"quantitative","axis":null},"y2":{"datum":11}}},
    {"mark":{"type":"rule","color":"#19e619","strokeWidth":1.5},"encoding":{"y":{"datum":5.5,"type":"quantitative","axis":null},"x":{"datum":0,"type":"quantitative","axis":null},"x2":{"datum":11}}},
    {"mark":{"type":"rect","filled":false,"color":"#000000","strokeWidth":3},"encoding":{"x":{"datum":0,"type":"quantitative","axis":null},"x2":{"datum":11},"y":{"datum":0,"type":"quantitative","axis":null},"y2":{"datum":11}}},
    {"data":{"values":[{"x":9.67,"y":9.88}]},"mark":{"type":"point","filled":true,"color":"#000000","size":14,"opacity":1},"encoding":{"x":{"field":"x","type":"quantitative","axis":null},"y":{"field":"y","type":"quantitative","axis":null}}},
    {"mark":{"type":"text","text":"Frame: 16","font":"DejaVu Sans Condensed","fontWeight":"bold","fontSize":18,"color":"#000000","align":"center","baseline":"middle"},"encoding":{"x":{"datum":5.47,"type":"quantitative","axis":null},"y":{"datum":-1.01,"type":"quantitative","axis":null}}},
    {"mark":{"type":"text","text":"Trajectory motion","font":"Lato","fontSize":23,"color":"#000000","align":"left","baseline":"middle"},"encoding":{"x":{"datum":-1.68,"type":"quantitative","axis":null},"y":{"datum":-3.22,"type":"quantitative","axis":null}}},
    {"mark":{"type":"text","text":"of 15mg/kg MPTP and","font":"Lato","fontSize":23,"color":"#000000","align":"left","baseline":"middle"},"encoding":{"x":{"datum":-1.19,"type":"quantitative","axis":null},"y":{"datum":-5.7,"type":"quantitative","axis":null}}},
    {"mark":{"type":"text","text":"10mg/kg Sinemet","font":"Lato","fontSize":23,"color":"#000000","align":"left","baseline":"middle"},"encoding":{"x":{"datum":-1.19,"type":"quantitative","axis":null},"y":{"datum":-8.17,"type":"quantitative","axis":null}}},
    {"mark":{"type":"text","text":"®","font":"Lato","fontSize":9,"color":"#000000","align":"left","baseline":"middle"},"encoding":{"x":{"datum":13.77,"type":"quantitative","axis":null},"y":{"datum":-7.22,"type":"quantitative","axis":null}}},
    {"mark":{"type":"text","text":".","font":"Lato","fontSize":23,"color":"#000000","align":"left","baseline":"middle"},"encoding":{"x":{"datum":14.24,"type":"quantitative","axis":null},"y":{"datum":-8.17,"type":"quantitative","axis":null}}}
   ]}
  ]},
 {"width":521,"height":318,"view":{"fill":"#c0c0c0","stroke":"#808080","strokeWidth":1.5},
  "data":{"name":"c2"},
  "layer":[
   {"mark":{"type":"line","strokeWidth":1.2},
    "encoding":{
     "x":{"field":"f","type":"quantitative","scale":{"domain":[7,12.5],"range":[110,497],"nice":false,"zero":false},
      "axis":{"values":[7,8,9,10,11,12],"format":"d","offset":-60,"grid":false,"domainColor":"#8c8c8c","domainWidth":1.5,"tickColor":"#8c8c8c","tickWidth":1.5,"tickSize":6,"labelFont":"Liberation Serif","labelFontSize":21,"labelColor":"#1a1a1a","labelPadding":17,"labelFlush":false,"labelOverlap":false,"title":"Frequency (Hz)","titleFont":"Lato","titleFontSize":19,"titleFontWeight":"bold","titleColor":"#1a1a1a","titleX":302,"titleY":48,"titleBaseline":"middle","titleAlign":"center"}},
     "y":{"field":"w","type":"quantitative","scale":{"domain":[0,0.0002],"range":[258,16],"nice":false,"zero":false},
      "axis":{"values":[0,0.00005,0.0001,0.00015,0.0002],"format":"~g","offset":-110,"grid":false,"domainColor":"#8c8c8c","domainWidth":1.5,"tickColor":"#8c8c8c","tickWidth":1.5,"tickSize":6,"labelFont":"Liberation Serif","labelFontSize":21,"labelColor":"#1a1a1a","labelPadding":17,"labelFlush":false,"labelOverlap":false,"title":"Power","titleFont":"Lato","titleFontSize":19,"titleFontWeight":"bold","titleColor":"#1a1a1a","titleX":-92.5,"titleY":136,"titleAngle":270,"titleBaseline":"middle","titleAlign":"center"}},
     "color":{"datum":"15mg/kg MPTP","scale":{"domain":["15mg/kg MPTP","15mg/kg MPTP+10mg/kg Sinemet"],"range":["#ffffff","#000000"]},"legend":null}}},
   {"mark":{"type":"line","strokeWidth":1.4},"encoding":{"x":{"field":"f","type":"quantitative"},"y":{"field":"b","type":"quantitative"},"color":{"datum":"15mg/kg MPTP+10mg/kg Sinemet"}}},
   {"data":{"values":[{}]},"mark":{"type":"text","text":"Frame 17","font":"Lato","fontWeight":"bold","fontSize":22,"color":"#1a1a1a","align":"center","baseline":"middle"},"encoding":{"x":{"datum":9.216},"y":{"datum":0.0001818}}}
  ]}
 ],"spacing":0,"resolve":{"scale":{"color":"independent"},"legend":{"color":"independent"}}}
]
}
